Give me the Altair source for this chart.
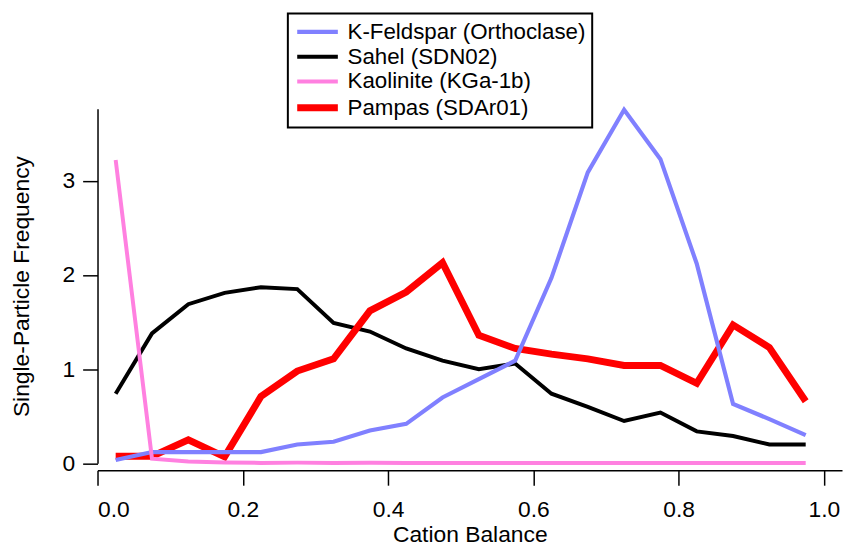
import altair as alt
import pandas as pd

cation_balance = [0.025, 0.075, 0.125, 0.175, 0.225, 0.275, 0.325, 0.375, 0.425, 0.475,
                  0.525, 0.575, 0.625, 0.675, 0.725, 0.775, 0.825, 0.875, 0.925, 0.975]
k_feldspar = [0.035, 0.12, 0.12, 0.12, 0.12, 0.20, 0.23, 0.35, 0.42, 0.70,
              0.895, 1.09, 1.97, 3.09, 3.755, 3.23, 2.12, 0.63, 0.47, 0.30]
sahel = [0.74, 1.38, 1.69, 1.81, 1.87, 1.85, 1.49, 1.40, 1.22, 1.09,
         1.00, 1.06, 0.74, 0.60, 0.45, 0.54, 0.34, 0.29, 0.20, 0.20]
kaolinite = [3.22, 0.05, 0.02, 0.01, 0.005, 0.008, 0.005, 0.006, 0.005, 0.005,
             0.005, 0.005, 0.004, 0.004, 0.004, 0.004, 0.004, 0.004, 0.004, 0.004]
pampas = [0.075, 0.075, 0.25, 0.07, 0.71, 0.98, 1.11, 1.62, 1.82, 2.13,
          1.36, 1.22, 1.16, 1.11, 1.04, 1.04, 0.85, 1.47, 1.23, 0.66]

series_names = ["K-Feldspar (Orthoclase)", "Sahel (SDN02)", "Kaolinite (KGa-1b)", "Pampas (SDAr01)"]
series_values = [k_feldspar, sahel, kaolinite, pampas]
series_colors = ["#8080ff", "#000000", "#ff80e0", "#ff0000"]
series_widths = [4.2, 4, 4, 7]
draw_order = ["Sahel (SDN02)", "Pampas (SDAr01)", "K-Feldspar (Orthoclase)", "Kaolinite (KGa-1b)"]

rows = []
for name, vals in zip(series_names, series_values):
    for xv, yv in zip(cation_balance, vals):
        rows.append({"series": name, "x": xv, "y": yv})
df = pd.DataFrame(rows)

FONT = "Liberation Sans"
FS = 23

legend_kw = dict(title=None, orient="none", legendX=192, legendY=-96,
                 labelFontSize=22.5, labelFont=FONT, labelColor="black",
                 symbolType="M-1.03,0H2.97", symbolSize=420,
                 strokeColor="black", fillColor="white", padding=6,
                 rowPadding=1, labelOffset=26.2, labelLimit=400)

x_enc = alt.X("x:Q",
              scale=alt.Scale(domain=[0, 1.025], nice=False, zero=False),
              axis=alt.Axis(title="Cation Balance", values=[0, 0.2, 0.4, 0.6, 0.8, 1.0], format=".1f",
                            offset=7, tickSize=15, labelPadding=14, grid=False,
                            titleBaseline="alphabetic", titleY=72))
y_enc = alt.Y("y:Q",
              scale=alt.Scale(domain=[0, 3.765], nice=False, zero=False),
              axis=alt.Axis(title="Single-Particle Frequency", values=[0, 1, 2, 3], format="d",
                            tickSize=15, labelPadding=8, grid=False,
                            titleBaseline="alphabetic", titleX=-70))
color_enc = alt.Color("series:N",
                      scale=alt.Scale(domain=series_names, range=series_colors),
                      legend=alt.Legend(**legend_kw))
sw_enc = alt.StrokeWidth("series:N",
                         scale=alt.Scale(type="ordinal", domain=series_names, range=series_widths),
                         legend=alt.Legend(**legend_kw))

layers = []
for name in draw_order:
    layers.append(
        alt.Chart(df).transform_filter(alt.datum.series == name)
        .mark_line(strokeCap="butt")
        .encode(x=x_enc, y=y_enc, color=color_enc, strokeWidth=sw_enc)
    )

chart = alt.layer(*layers).properties(
    width=751, height=357.7,
    autosize=alt.AutoSizeParams(type="none"),
    padding={"left": 90.3, "top": 99.3, "right": 1, "bottom": 82},
).configure_view(stroke=None).configure_axis(
    labelFont=FONT, titleFont=FONT, labelFontSize=FS, titleFontSize=FS,
    titleFontWeight="normal", labelColor="black", titleColor="black",
    domainColor="black", tickColor="black", domainWidth=1.5, tickWidth=1.5,
).configure_legend(strokeWidth=2)

chart.save("out.html", embed_options={"renderer": "svg", "actions": False})
